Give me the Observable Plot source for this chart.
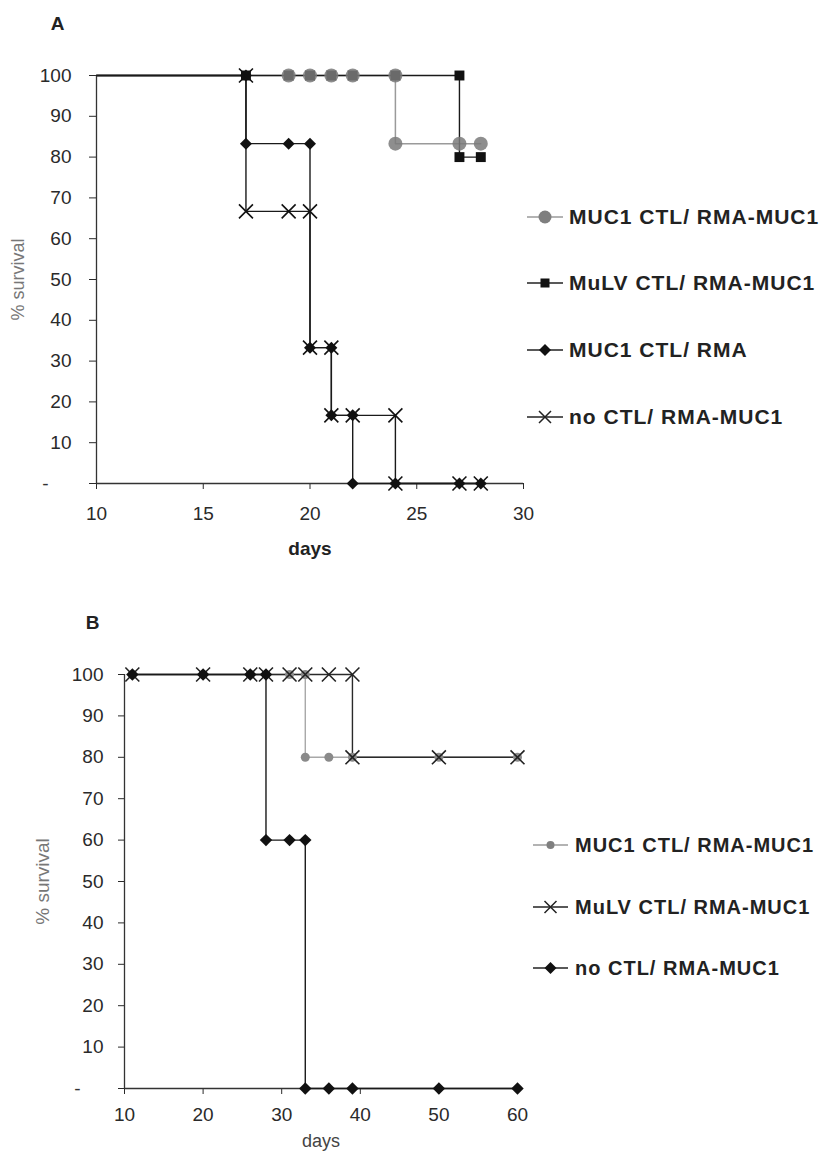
<!DOCTYPE html>
<html><head><meta charset="utf-8">
<script src="https://cdn.jsdelivr.net/npm/d3@7"></script>
<script src="https://cdn.jsdelivr.net/npm/@observablehq/plot@0.6"></script>
<style>
body{margin:0;background:#fff;}
#root{position:relative;width:826px;height:1153px;overflow:hidden;font-family:"Liberation Sans",Arial,sans-serif;background:#fff;}
#root svg.plot{position:absolute;left:0;}
.leg{position:absolute;display:flex;align-items:center;font-weight:bold;color:#222;letter-spacing:1px;white-space:nowrap;height:24px;line-height:24px;}
.leg svg{display:block;flex:none;}
</style></head><body><div id="root"></div>
<script>
// ---------- Panel A data ----------
const seriesA = ["MUC1 CTL/ RMA-MUC1", "MuLV CTL/ RMA-MUC1", "MUC1 CTL/ RMA", "no CTL/ RMA-MUC1"];
const a1Days = [10, 19, 20, 21, 22, 24, 24, 27, 28];
const a1Surv = [100, 100, 100, 100, 100, 100, 83.3, 83.3, 83.3];
const a2Days = [10, 17, 19, 20, 21, 22, 24, 27, 27, 28];
const a2Surv = [100, 100, 100, 100, 100, 100, 100, 100, 80, 80];
const a3Days = [10, 17, 17, 19, 20, 20, 21, 21, 22, 22, 24, 27, 28];
const a3Surv = [100, 100, 83.3, 83.3, 83.3, 33.3, 33.3, 16.7, 16.7, 0, 0, 0, 0];
const a4Days = [10, 17, 17, 19, 20, 20, 21, 21, 22, 24, 24, 27, 28];
const a4Surv = [100, 100, 66.7, 66.7, 66.7, 33.3, 33.3, 16.7, 16.7, 16.7, 0, 0, 0];
const xTicksA = [10, 15, 20, 25, 30];

// ---------- Panel B data ----------
const seriesB = ["MUC1 CTL/ RMA-MUC1", "MuLV CTL/ RMA-MUC1", "no CTL/ RMA-MUC1"];
const b1Days = [11, 20, 26, 28, 31, 33, 33, 36, 39, 50, 60];
const b1Surv = [100, 100, 100, 100, 100, 100, 80, 80, 80, 80, 80];
const b2Days = [11, 20, 26, 28, 31, 33, 36, 39, 39, 50, 60];
const b2Surv = [100, 100, 100, 100, 100, 100, 100, 100, 80, 80, 80];
const b3Days = [11, 20, 26, 28, 28, 31, 33, 33, 36, 39, 50, 60];
const b3Surv = [100, 100, 100, 100, 60, 60, 60, 0, 0, 0, 0, 0];
const xTicksB = [10, 20, 30, 40, 50, 60];

const yTicks = [0, 10, 20, 30, 40, 50, 60, 70, 80, 90, 100];

function toRows(name, days, surv) {
  return days.map((d, i) => ({series: name, day: d, surv: surv[i], first: i === 0}));
}
const rowsA = [
  toRows(seriesA[0], a1Days, a1Surv),
  toRows(seriesA[1], a2Days, a2Surv),
  toRows(seriesA[2], a3Days, a3Surv),
  toRows(seriesA[3], a4Days, a4Surv)
];
const rowsB = [
  toRows(seriesB[0], b1Days, b1Surv),
  toRows(seriesB[1], b2Days, b2Surv),
  toRows(seriesB[2], b3Days, b3Surv)
];

const FONT = "Liberation Sans, Arial, sans-serif";
const root = document.getElementById("root");

// ---------- Panel A ----------
const plotA = Plot.plot({
  width: 826, height: 570,
  marginTop: 75, marginBottom: 87, marginLeft: 96, marginRight: 303,
  style: {fontFamily: FONT, fontSize: "19px", color: "#2a2a2a", background: "transparent", overflow: "visible"},
  x: {domain: [10, 30], ticks: xTicksA, tickSize: 6, tickPadding: 17, label: null},
  y: {domain: [0, 100], ticks: yTicks, tickSize: 7, tickPadding: 18, tickFormat: d => d === 0 ? "" : d, label: null},
  marks: [
    Plot.ruleX([10], {stroke: "#333", strokeWidth: 1.3}),
    Plot.ruleY([0], {stroke: "#333", strokeWidth: 1.3}),
    Plot.line(rowsA[0], {x: "day", y: "surv", stroke: "#9a9a9a", strokeWidth: 1.5}),
    Plot.line(rowsA[1], {x: "day", y: "surv", stroke: "#1a1a1a", strokeWidth: 1.4}),
    Plot.line(rowsA[2], {x: "day", y: "surv", stroke: "#1a1a1a", strokeWidth: 1.4}),
    Plot.line(rowsA[3], {x: "day", y: "surv", stroke: "#1a1a1a", strokeWidth: 1.4}),
    Plot.dot(rowsA[1].filter(d => d.day > 10), {x: "day", y: "surv", symbol: "square", r: 5.6, fill: "#111", stroke: "none"}),
    Plot.dot(rowsA[0].filter(d => d.day > 10), {x: "day", y: "surv", r: 7, fill: "#7a7a7a", fillOpacity: 0.85, stroke: "none"}),
    Plot.dot(rowsA[2].filter(d => d.day > 10), {x: "day", y: "surv", symbol: "diamond2", r: 5.4, fill: "#111", stroke: "none"}),
    Plot.dot(rowsA[3].filter(d => d.day > 10), {x: "day", y: "surv", symbol: "times", r: 6.4, fill: "none", stroke: "#111", strokeWidth: 1.6}),
    Plot.text([0], {y: d => d, frameAnchor: "left", text: () => "-", dx: -51, textAnchor: "middle", fill: "#333"}),
    Plot.text(["% survival"], {frameAnchor: "left", rotate: -90, dx: -78, textAnchor: "middle", lineAnchor: "middle", fill: "#777", fontSize: 18}),
    Plot.text(["days"], {frameAnchor: "bottom", dy: 65, textAnchor: "middle", lineAnchor: "middle", fontWeight: "bold", fill: "#222", fontSize: 19}),
    Plot.text(["A"], {frameAnchor: "top-left", dx: -39, dy: -52, textAnchor: "middle", lineAnchor: "middle", fontWeight: "bold", fill: "#222", fontSize: 19})
  ]
});
plotA.classList.add("plot");
plotA.style.top = "0px";
root.appendChild(plotA);

// ---------- Panel B ----------
const plotB = Plot.plot({
  width: 826, height: 573,
  marginTop: 94, marginBottom: 65, marginLeft: 124, marginRight: 309,
  style: {fontFamily: FONT, fontSize: "19px", color: "#2a2a2a", background: "transparent", overflow: "visible"},
  x: {domain: [10, 60], ticks: xTicksB, tickSize: 6, tickPadding: 13, label: null},
  y: {domain: [0, 100], ticks: yTicks, tickSize: 6, tickPadding: 15, tickFormat: d => d === 0 ? "" : d, label: null},
  marks: [
    Plot.ruleX([10], {stroke: "#333", strokeWidth: 1.3}),
    Plot.ruleY([0], {stroke: "#333", strokeWidth: 1.3}),
    Plot.line(rowsB[0], {x: "day", y: "surv", stroke: "#a8a8a8", strokeWidth: 1.4}),
    Plot.line(rowsB[1], {x: "day", y: "surv", stroke: "#2a2a2a", strokeWidth: 1.4}),
    Plot.line(rowsB[2], {x: "day", y: "surv", stroke: "#1a1a1a", strokeWidth: 1.4}),
    Plot.dot(rowsB[0], {x: "day", y: "surv", r: 4.5, fill: "#8a8a8a", stroke: "none"}),
    Plot.dot(rowsB[1], {x: "day", y: "surv", symbol: "times", r: 6.4, fill: "none", stroke: "#222", strokeWidth: 1.6}),
    Plot.dot(rowsB[2], {x: "day", y: "surv", symbol: "diamond2", r: 5.6, fill: "#111", stroke: "none"}),
    Plot.text([0], {y: d => d, frameAnchor: "left", text: () => "-", dx: -47, textAnchor: "middle", fill: "#333"}),
    Plot.text(["% survival"], {frameAnchor: "left", rotate: -90, dx: -82, textAnchor: "middle", lineAnchor: "middle", fill: "#777", fontSize: 19}),
    Plot.text(["days"], {frameAnchor: "bottom", dy: 53, textAnchor: "middle", lineAnchor: "middle", fill: "#444", fontSize: 18}),
    Plot.text(["B"], {frameAnchor: "top-left", dx: -32, dy: -52, textAnchor: "middle", lineAnchor: "middle", fontWeight: "bold", fill: "#222", fontSize: 19})
  ]
});
plotB.classList.add("plot");
plotB.style.top = "580px";
root.appendChild(plotB);

// ---------- Legends ----------
function markerSvg(sym, fill, lineCol, w, size) {
  const c = w / 2, cy = 12;
  let m = "";
  if (sym === "circle") m = `<circle cx="${c}" cy="${cy}" r="${size}" fill="${fill}"/>`;
  else if (sym === "square") m = `<rect x="${c - size}" y="${cy - size}" width="${2 * size}" height="${2 * size}" fill="${fill}"/>`;
  else if (sym === "diamond") m = `<path d="M${c},${cy - size}L${c + size},${cy}L${c},${cy + size}L${c - size},${cy}Z" fill="${fill}"/>`;
  else if (sym === "times") m = `<path d="M${c - size},${cy - size}L${c + size},${cy + size}M${c - size},${cy + size}L${c + size},${cy - size}" stroke="${fill}" stroke-width="1.5" fill="none"/>`;
  return `<svg width="${w}" height="24"><line x1="0" x2="${w}" y1="12" y2="12" stroke="${lineCol}" stroke-width="1.5"/>${m}</svg>`;
}
function addLegend(labels, styles, ys, left, w, gap, fontSize) {
  labels.forEach((lab, i) => {
    const s = styles[i];
    const div = document.createElement("div");
    div.className = "leg";
    div.style.left = left + "px";
    div.style.top = (ys[i] - 12) + "px";
    div.style.fontSize = fontSize + "px";
    div.innerHTML = markerSvg(s[0], s[1], s[2], w, s[3]) + `<span style="margin-left:${gap}px">${lab}</span>`;
    root.appendChild(div);
  });
}
const legendYA = [217, 283, 350, 417];
const legendYB = [845, 907, 968];
addLegend(seriesA, [
  ["circle", "#7f7f7f", "#9a9a9a", 6.5],
  ["square", "#111", "#222", 4.5],
  ["diamond", "#111", "#222", 6],
  ["times", "#222", "#222", 6]
], legendYA, 527, 36, 6, 21);
addLegend(seriesB, [
  ["circle", "#7f7f7f", "#9a9a9a", 4],
  ["times", "#222", "#222", 6],
  ["diamond", "#111", "#222", 6]
], legendYB, 533, 35, 7, 20);
</script></body></html>
